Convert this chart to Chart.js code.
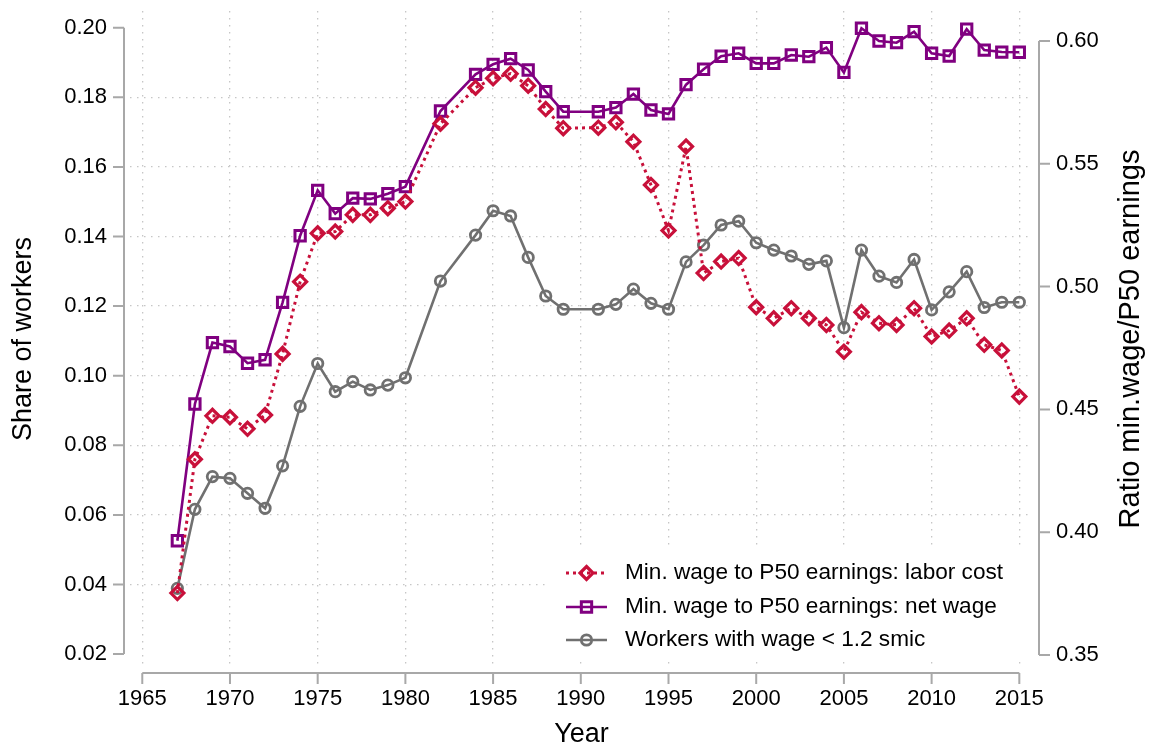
<!DOCTYPE html>
<html>
<head>
<meta charset="utf-8">
<script src="https://cdn.jsdelivr.net/npm/chart.js@4.4.0/dist/chart.umd.min.js"></script>
<style>
  html, body { margin: 0; padding: 0; background: #fff; }
  #wrap { width: 1149px; height: 746px; position: relative; }
</style>
</head>
<body>
<div id="wrap"><canvas id="minWageChart"></canvas></div>
<script>
// years observed (no 1981, 1983, 1990)
const years = [1967, 1968, 1969, 1970, 1971, 1972, 1973, 1974, 1975, 1976, 1977, 1978, 1979, 1980,
    1982, 1984, 1985, 1986, 1987, 1988, 1989,
    1991, 1992, 1993, 1994, 1995, 1996, 1997, 1998, 1999, 2000, 2001, 2002, 2003, 2004, 2005,
    2006, 2007, 2008, 2009, 2010, 2011, 2012, 2013, 2014, 2015];

const laborCost = [0.3752, 0.4297, 0.4474, 0.4468, 0.4421, 0.4477, 0.4726, 0.5020, 0.5217, 0.5224, 0.5292, 0.5292, 0.5319, 0.5346,
    0.5663, 0.5810, 0.5848, 0.5867, 0.5818, 0.5723, 0.5645,
    0.5647, 0.5669, 0.5590, 0.5414, 0.5228, 0.5570, 0.5055, 0.5102, 0.5116, 0.4916, 0.4871, 0.4912, 0.4871, 0.4844, 0.4735,
    0.4896, 0.4851, 0.4844, 0.4912, 0.4797, 0.4821, 0.4871, 0.4763, 0.4740, 0.4552];

const netWage = [0.3965, 0.4522, 0.4772, 0.4756, 0.4688, 0.4702, 0.4936, 0.5207, 0.5392, 0.5297, 0.5360, 0.5357, 0.5378, 0.5407,
    0.5715, 0.5864, 0.5905, 0.5928, 0.5882, 0.5794, 0.5712,
    0.5712, 0.5729, 0.5784, 0.5719, 0.5703, 0.5822, 0.5885, 0.5938, 0.5950, 0.5909, 0.5909, 0.5943, 0.5936, 0.5973, 0.5872,
    0.6052, 0.6000, 0.5993, 0.6038, 0.5950, 0.5939, 0.6048, 0.5963, 0.5955, 0.5954];

const shareBelow = [0.0389, 0.0616, 0.0710, 0.0705, 0.0662, 0.0619, 0.0741, 0.0912, 0.1035, 0.0954, 0.0983, 0.0959, 0.0973, 0.0994,
    0.1272, 0.1404, 0.1474, 0.1459, 0.1340, 0.1229, 0.1191,
    0.1191, 0.1205, 0.1249, 0.1208, 0.1191, 0.1327, 0.1375, 0.1433, 0.1444, 0.1382, 0.1361, 0.1344, 0.1320, 0.1330, 0.1138,
    0.1361, 0.1286, 0.1268, 0.1334, 0.1189, 0.1241, 0.1299, 0.1196, 0.1211, 0.1211];

const seriesNames = ['Min. wage to P50 earnings: labor cost', 'Min. wage to P50 earnings: net wage', 'Workers with wage < 1.2 smic'];

const xTicks = [1965, 1970, 1975, 1980, 1985, 1990, 1995, 2000, 2005, 2010, 2015];
const leftTicks = [0.02, 0.04, 0.06, 0.08, 0.10, 0.12, 0.14, 0.16, 0.18, 0.20];
const rightTicks = [0.35, 0.40, 0.45, 0.50, 0.55, 0.60];

const titles = { x: 'Year', left: 'Share of workers', right: 'Ratio min.wage/P50 earnings' };

const RED = '#c8103a';
const PURPLE = '#800080';
const GRAY = '#707070';
const AXIS = '#a8a8a8';
const GRID = '#c6c6c6';
const FONT = '"Liberation Sans", Arial, sans-serif';

function pts(vals) {
    return years.map((yr, i) => ({ x: yr, y: vals[i] }));
}

function drawMarker(ctx, style, x, y, r) {
    ctx.beginPath();
    if (style === 'rectRot') {
        ctx.moveTo(x, y - r); ctx.lineTo(x + r, y); ctx.lineTo(x, y + r); ctx.lineTo(x - r, y); ctx.closePath();
    } else if (style === 'rect') {
        const h = r * Math.SQRT1_2;
        ctx.rect(x - h, y - h, 2 * h, 2 * h);
    } else {
        ctx.arc(x, y, r, 0, Math.PI * 2);
    }
    ctx.stroke();
}

// offset axes, titles and the legend box
const frame = {
    id: 'frame',
    afterDraw(chart) {
        const { ctx, chartArea: a, scales } = chart;
        ctx.save();
        ctx.strokeStyle = AXIS;
        ctx.lineWidth = 2;
        ctx.setLineDash([]);

        // x axis
        const xa = a.bottom + 6;
        ctx.beginPath();
        ctx.moveTo(scales.x.getPixelForValue(xTicks[0]), xa);
        ctx.lineTo(scales.x.getPixelForValue(xTicks[xTicks.length - 1]), xa);
        xTicks.forEach(v => {
            const px = scales.x.getPixelForValue(v);
            ctx.moveTo(px, xa); ctx.lineTo(px, xa + 11);
        });
        ctx.stroke();

        // left axis
        const la = a.left - 6;
        ctx.beginPath();
        ctx.moveTo(la, scales.y.getPixelForValue(leftTicks[0]));
        ctx.lineTo(la, scales.y.getPixelForValue(leftTicks[leftTicks.length - 1]));
        leftTicks.forEach(v => {
            const py = scales.y.getPixelForValue(v);
            ctx.moveTo(la, py); ctx.lineTo(la - 11, py);
        });
        ctx.stroke();

        // right axis
        const ra = a.right + 6;
        ctx.beginPath();
        ctx.moveTo(ra, scales.y1.getPixelForValue(rightTicks[0]));
        ctx.lineTo(ra, scales.y1.getPixelForValue(rightTicks[rightTicks.length - 1]));
        rightTicks.forEach(v => {
            const py = scales.y1.getPixelForValue(v);
            ctx.moveTo(ra, py); ctx.lineTo(ra + 11, py);
        });
        ctx.stroke();

        // axis titles
        ctx.fillStyle = '#000';
        ctx.textAlign = 'center';
        ctx.textBaseline = 'middle';
        const midY = (a.top + a.bottom) / 2;
        ctx.font = '27px ' + FONT;
        ctx.fillText(titles.x, (a.left + a.right) / 2, 735);
        ctx.save();
        ctx.translate(24, midY);
        ctx.rotate(-Math.PI / 2);
        ctx.fillText(titles.left, 0, 0);
        ctx.restore();
        ctx.font = '29px ' + FONT;
        ctx.save();
        ctx.translate(1131, midY);
        ctx.rotate(-Math.PI / 2);
        ctx.fillText(titles.right, 0, 0);
        ctx.restore();

        // legend
        ctx.fillStyle = '#fff';
        ctx.fillRect(548, 545, 482, 117);
        const rowY = [573, 607, 640];
        ctx.font = '22.6px ' + FONT;
        ctx.textAlign = 'left';
        chart.data.datasets.forEach((ds, i) => {
            const y = rowY[i];
            ctx.strokeStyle = ds.borderColor;
            ctx.lineWidth = ds.borderWidth;
            ctx.setLineDash(ds.borderDash || []);
            ctx.beginPath();
            ctx.moveTo(566, y); ctx.lineTo(607, y);
            ctx.stroke();
            ctx.setLineDash([]);
            ctx.lineWidth = ds.pointBorderWidth;
            drawMarker(ctx, ds.pointStyle, 586.5, y, ds.pointRadius);
            ctx.fillStyle = '#000';
            ctx.fillText(ds.label, 625, y);
        });
        ctx.restore();
    }
};

const hideEnds = c => {
    const v = c.tick ? c.tick.value : null;
    if (v === null) return GRID;
    return (Math.abs(v - 0.02) < 1e-6 || Math.abs(v - 0.20) < 1e-6) ? 'rgba(0,0,0,0)' : GRID;
};

new Chart(document.getElementById('minWageChart'), {
    type: 'line',
    data: {
        datasets: [
            {
                label: seriesNames[0],
                data: pts(laborCost),
                yAxisID: 'y1',
                borderColor: RED,
                borderWidth: 3,
                borderDash: [3, 4],
                pointStyle: 'rectRot',
                pointRadius: 6.5,
                pointBorderWidth: 3.2,
                pointBorderColor: RED,
                pointBackgroundColor: 'rgba(0,0,0,0)',
                tension: 0
            },
            {
                label: seriesNames[1],
                data: pts(netWage),
                yAxisID: 'y1',
                borderColor: PURPLE,
                borderWidth: 2.6,
                pointStyle: 'rect',
                pointRadius: 7.3,
                pointBorderWidth: 3,
                pointBorderColor: PURPLE,
                pointBackgroundColor: 'rgba(0,0,0,0)',
                tension: 0
            },
            {
                label: seriesNames[2],
                data: pts(shareBelow),
                yAxisID: 'y',
                borderColor: GRAY,
                borderWidth: 2.6,
                pointStyle: 'circle',
                pointRadius: 5.2,
                pointBorderWidth: 2.8,
                pointBorderColor: GRAY,
                pointBackgroundColor: 'rgba(0,0,0,0)',
                tension: 0
            }
        ]
    },
    options: {
        responsive: true,
        maintainAspectRatio: false,
        animation: false,
        layout: { padding: { top: 11, left: 0, right: 0, bottom: 0 } },
        plugins: {
            legend: { display: false },
            tooltip: { enabled: false }
        },
        scales: {
            x: {
                type: 'linear',
                min: 1964.3,
                max: 2015.78,
                afterBuildTicks: s => { s.ticks = xTicks.map(v => ({ value: v })); },
                afterFit: s => { s.height = 79; s.paddingLeft = 0; s.paddingRight = 0; },
                grid: { color: GRID, lineWidth: 1.3, drawTicks: false },
                border: { display: false, dash: [1.5, 5.5] },
                ticks: {
                    padding: 19,
                    color: '#000',
                    font: { family: FONT, size: 22 },
                    maxRotation: 0,
                    autoSkip: false,
                    callback: v => String(v)
                }
            },
            y: {
                position: 'left',
                min: 0.01629,
                max: 0.20480,
                afterBuildTicks: s => { s.ticks = leftTicks.map(v => ({ value: v })); },
                afterFit: s => { s.width = 130; s.paddingTop = 0; s.paddingBottom = 0; },
                grid: { color: hideEnds, lineWidth: 1.3, drawTicks: false },
                border: { display: false, dash: [1.5, 5.5] },
                ticks: {
                    padding: 23,
                    color: '#000',
                    font: { family: FONT, size: 22 },
                    autoSkip: false,
                    callback: v => v.toFixed(2)
                }
            },
            y1: {
                position: 'right',
                min: 0.34511,
                max: 0.61221,
                afterBuildTicks: s => { s.ticks = rightTicks.map(v => ({ value: v })); },
                afterFit: s => { s.width = 116; s.paddingTop = 0; s.paddingBottom = 0; },
                grid: { display: false, drawTicks: false },
                border: { display: false },
                ticks: {
                    padding: 23,
                    color: '#000',
                    font: { family: FONT, size: 22 },
                    autoSkip: false,
                    callback: v => v.toFixed(2)
                }
            }
        }
    },
    plugins: [frame]
});
</script>
</body>
</html>
